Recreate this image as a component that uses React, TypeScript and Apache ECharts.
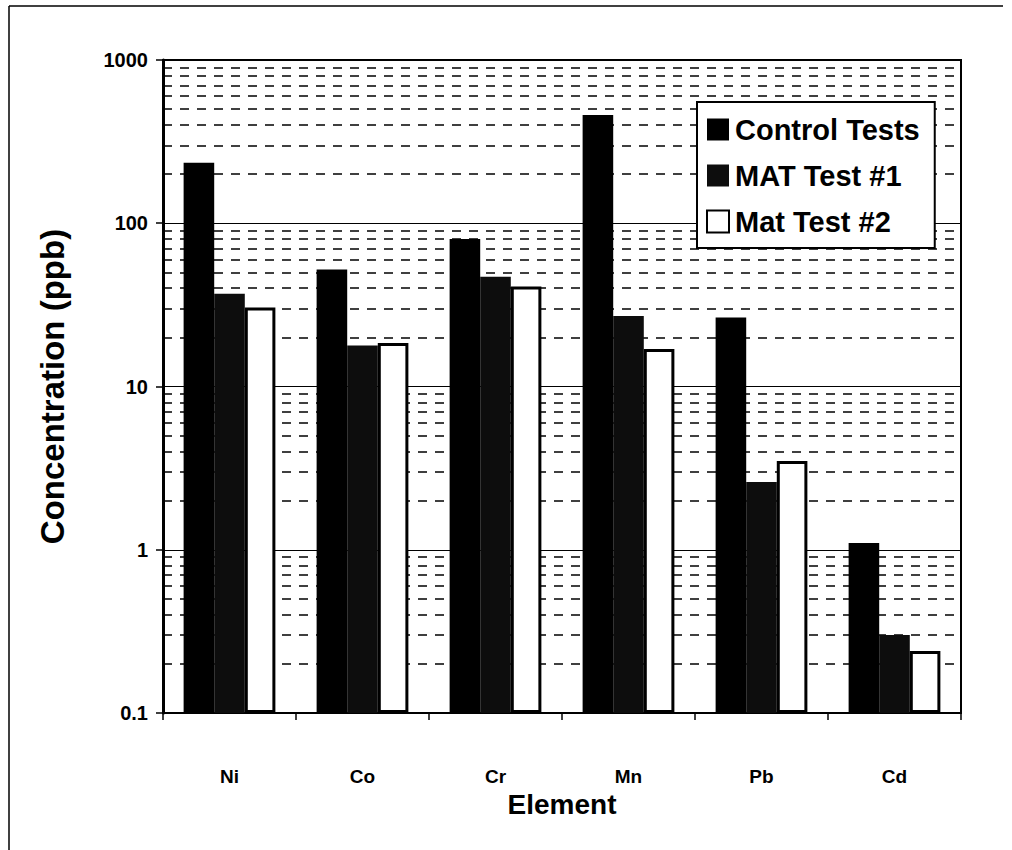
import React, { useEffect, useRef } from "react";
import * as echarts from "echarts";

const categories = ["Ni", "Co", "Cr", "Mn", "Pb", "Cd"];
const controlTests = [235, 52, 80, 460, 26.5, 1.1];
const matTest1 = [37, 17.8, 47, 27, 2.6, 0.3];
const matTest2 = [30.5, 18.5, 41, 17, 3.5, 0.24];
const minorGridValues = [
  0.2, 0.3, 0.4, 0.5, 0.6, 0.7, 0.8, 0.9,
  2, 3, 4, 5, 6, 7, 8, 9,
  20, 30, 40, 50, 60, 70, 80, 90,
  200, 300, 400, 500, 600, 700, 800, 900,
];

const FONT = "Liberation Sans";

export default function App() {
  const ref = useRef<HTMLDivElement>(null);
  useEffect(() => {
    if (!ref.current) return;
    const chart = echarts.init(ref.current, undefined, { renderer: "svg" });
    chart.setOption({
      animation: false,
      backgroundColor: "#fff",
      textStyle: { fontFamily: FONT, color: "#000" },
      graphic: [
        { type: "line", shape: { x1: 9, y1: 6, x2: 9, y2: 850 }, style: { stroke: "#000", lineWidth: 1.5 } },
        { type: "line", shape: { x1: 9, y1: 6, x2: 1003, y2: 6 }, style: { stroke: "#000", lineWidth: 1.5 } },
      ],
      grid: {
        left: 163,
        right: 51,
        top: 60,
        bottom: 137,
        show: true,
        borderColor: "#000",
        borderWidth: 2,
        backgroundColor: "#fff",
      },
      legend: {
        orient: "vertical",
        left: 697,
        top: 102,
        padding: [13, 15, 12, 9],
        itemWidth: 22,
        itemHeight: 22,
        itemGap: 17,
        backgroundColor: "#fff",
        borderColor: "#000",
        borderWidth: 2,
        borderRadius: 0,
        icon: "rect",
        textStyle: {
          fontFamily: FONT,
          fontSize: 29,
          fontWeight: "bold",
          color: "#000",
          padding: [0, 0, 0, 1],
        },
        data: ["Control Tests", "MAT Test #1", "Mat Test #2"],
      },
      xAxis: {
        type: "category",
        data: categories,
        name: "Element",
        nameLocation: "middle",
        nameGap: 75,
        nameTextStyle: { fontFamily: FONT, fontSize: 28, fontWeight: "bold", color: "#000" },
        axisLine: { show: true, lineStyle: { color: "#000", width: 2 } },
        axisTick: { show: true, length: 7, lineStyle: { color: "#000", width: 1.5 } },
        axisLabel: { fontFamily: FONT, fontSize: 19, fontWeight: "bold", color: "#000", margin: 54 },
        splitLine: { show: false },
      },
      yAxis: {
        type: "log",
        logBase: 10,
        min: 0.1,
        max: 1000,
        startValue: 0.1,
        name: "Concentration (ppb)",
        nameLocation: "middle",
        nameRotate: 90,
        nameGap: 94,
        nameTextStyle: { fontFamily: FONT, fontSize: 33, fontWeight: "bold", color: "#000" },
        axisLine: { show: true, lineStyle: { color: "#000", width: 3 } },
        axisTick: { show: true, length: 7, lineStyle: { color: "#000", width: 1.5 } },
        axisLabel: {
          fontFamily: FONT,
          fontSize: 20,
          fontWeight: "bold",
          color: "#000",
          margin: 15,
          formatter: (v: number) => String(v),
        },
        splitLine: { show: true, lineStyle: { color: "#000", width: 1.2, type: "solid" } },
      },
      series: [
        {
          name: "Control Tests",
          type: "bar",
          data: controlTests,
          barGap: "0%",
          barCategoryGap: "31%",
          itemStyle: { color: "#000" },
          z: 3,
          markLine: {
            silent: true,
            symbol: "none",
            z: 1,
            label: { show: false },
            lineStyle: { color: "#000", width: 1.6, type: [9, 8] },
            data: minorGridValues.map((v) => ({ yAxis: v })),
          },
        },
        {
          name: "MAT Test #1",
          type: "bar",
          data: matTest1,
          barGap: "0%",
          barCategoryGap: "31%",
          itemStyle: { color: "#0d0d0d" },
          z: 3,
        },
        {
          name: "Mat Test #2",
          type: "bar",
          data: matTest2,
          barGap: "0%",
          barCategoryGap: "31%",
          itemStyle: { color: "#fff", borderColor: "#000", borderWidth: 3 },
          z: 3,
        },
      ],
    });
    return () => chart.dispose();
  }, []);
  return (
    <div
      ref={ref}
      style={{ position: "absolute", left: 0, top: 0, width: 1012, height: 850, background: "#fff" }}
    />
  );
}
